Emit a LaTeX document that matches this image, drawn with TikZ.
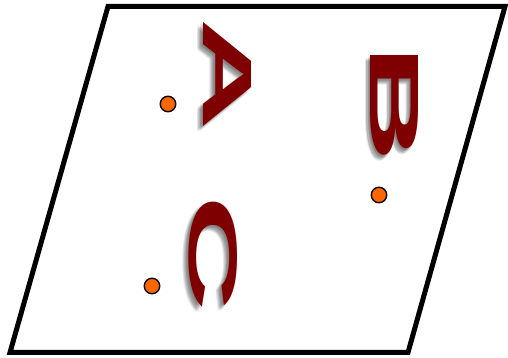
\documentclass[tikz,border=0pt]{standalone}
\usepackage{fontspec}
\setsansfont{Liberation Sans}
\usepackage{graphicx}
\definecolor{lettred}{HTML}{7F0000}
\definecolor{dotorange}{HTML}{FF6600}
\newcommand{\rotletter}[2]{\rotatebox{-90}{\resizebox{#2pt}{48pt}{\sffamily\bfseries #1}}}
\begin{document}
\begin{tikzpicture}[x=1pt,y=1pt,
  plane/.style={draw=black,line width=5pt,line join=miter},
  pointdot/.style={circle,fill=dotorange,draw=black,line width=1.4pt,minimum size=15.5pt,inner sep=0pt},
  bigletter/.style={inner sep=0pt,text=lettred},
  letshadow/.style={inner sep=0pt,text=black,opacity=0.055}]
\useasboundingbox (0,0) rectangle (508,358);
\draw[plane] (108,351.5) -- (505,351.5) -- (408,5.5) -- (10,5.5) -- cycle;
% shadows
\foreach \px/\py/\l/\w in {228/283/A/112,395/254/B/118,213/104/C/116}{
  \foreach \dx/\dy in {-1/-1,-2/-2,-3/-3,-4/-4,-5/-5,-6/-6,-3/-1,-1/-3,-5/-3,-3/-5,-6/-4,-4/-6}{
    \node[letshadow] at (\px+\dx,\py+\dy) {\rotletter{\l}{\w}};
  }
}
\node[bigletter] (A) at (228,283) {\rotletter{A}{112}};
\node[bigletter] (B) at (395,254) {\rotletter{B}{118}};
\node[bigletter] (C) at (213,104) {\rotletter{C}{116}};
\node[pointdot] (pa) at (168,254) {};
\node[pointdot] (pb) at (379,163) {};
\node[pointdot] (pc) at (152,72) {};
\end{tikzpicture}
\end{document}
